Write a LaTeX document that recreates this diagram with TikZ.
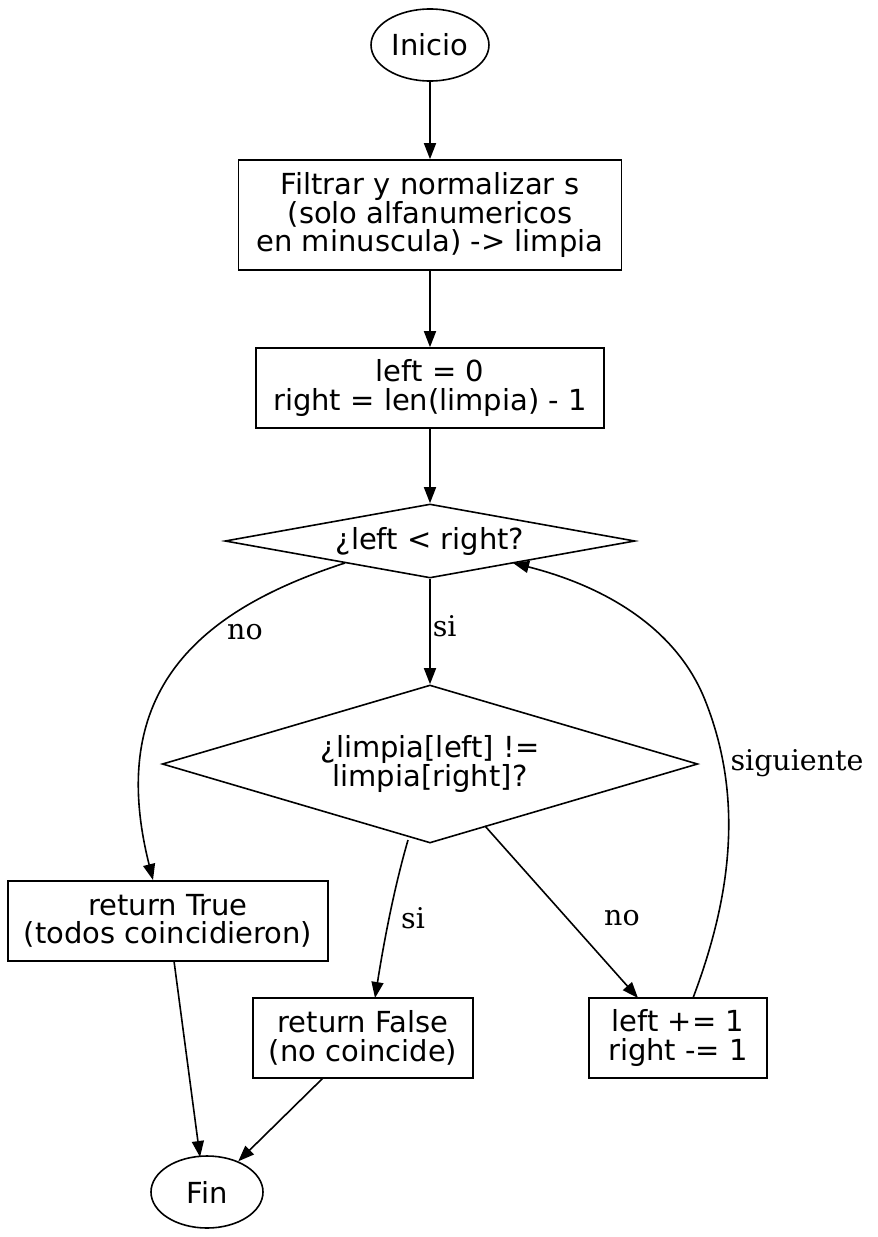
\documentclass[tikz,border=0pt]{standalone}
\usepackage{fontspec}
\setmainfont{DejaVu Sans}
\newfontfamily\lblfont{DejaVu Serif}
\usetikzlibrary{shapes.geometric,arrows.meta}

\tikzset{
  box/.style={draw, line width=1.6pt, align=center, inner sep=0pt},
  term/.style={draw, line width=1.6pt, ellipse, minimum width=110pt, minimum height=72pt},
  test/.style={draw, line width=1.6pt, diamond, aspect=5.6, inner sep=0pt, align=center},
  flow/.style={draw, line width=1.6pt, -{Triangle[length=16pt,width=12pt]}},
  lbl/.style={font=\lblfont\fontsize{28.5}{30}\selectfont}
}

\begin{document}
\begin{tikzpicture}[x=1pt,y=-1pt,font=\fontsize{29}{28.5}\selectfont]
\useasboundingbox (0,0) rectangle (878,1237);
\node[term] (inicio) at (430,45) {Inicio};
\node[box, minimum width=383pt, minimum height=110pt] (filtrar) at (430,215) {Filtrar y normalizar s\\(solo alfanumericos\\en minuscula) -> limpia};
\node[box, minimum width=348pt, minimum height=80pt] (init) at (430,388) {left = 0\\right = len(limpia) - 1};
\node[test, minimum width=410pt, minimum height=74pt] (cmp) at (430,541) {¿left < right?};
\node[test, minimum width=500pt, minimum height=158pt] (diff) at (430,764) {¿limpia[left] !=\\limpia[right]?};
\node[box, minimum width=320pt, minimum height=80pt] (true) at (168,921) {return True\\(todos coincidieron)};
\node[box, minimum width=220pt, minimum height=80pt] (false) at (363,1038) {return False\\(no coincide)};
\node[box, minimum width=178pt, minimum height=80pt] (step) at (678,1038) {left += 1\\right -= 1};
\node[term, minimum width=112pt] (fin) at (207,1192) {Fin};

\draw[flow] (inicio) -- (filtrar);
\draw[flow] (filtrar) -- (init);
\draw[flow] (init) -- (cmp);
\draw[flow] (cmp) -- node[lbl, right, pos=0.45, inner sep=2pt] {si} (diff);
\draw[flow] (345,563) .. controls (200,610) and (105,690) .. (153,880) coordinate (t1);
\node[lbl] at (245,632) {no};
\draw[flow] (408,840) .. controls (395,885) and (385,935) .. (375,998);
\node[lbl] at (413,918) {si};
\draw[flow] (diff) ++(55,62) -- (638,998);
\node[lbl] at (622,918) {no};
\draw[flow] (693,998) .. controls (730,900) and (745,800) .. (705,700)
  .. controls (675,625) and (600,585) .. (513,563);
\node[lbl] at (797,763) {siguiente};
\draw[flow] (true) ++(6,40) -- (200,1157);
\draw[flow] (false) ++(-40,40) -- (fin);
\end{tikzpicture}
\end{document}
